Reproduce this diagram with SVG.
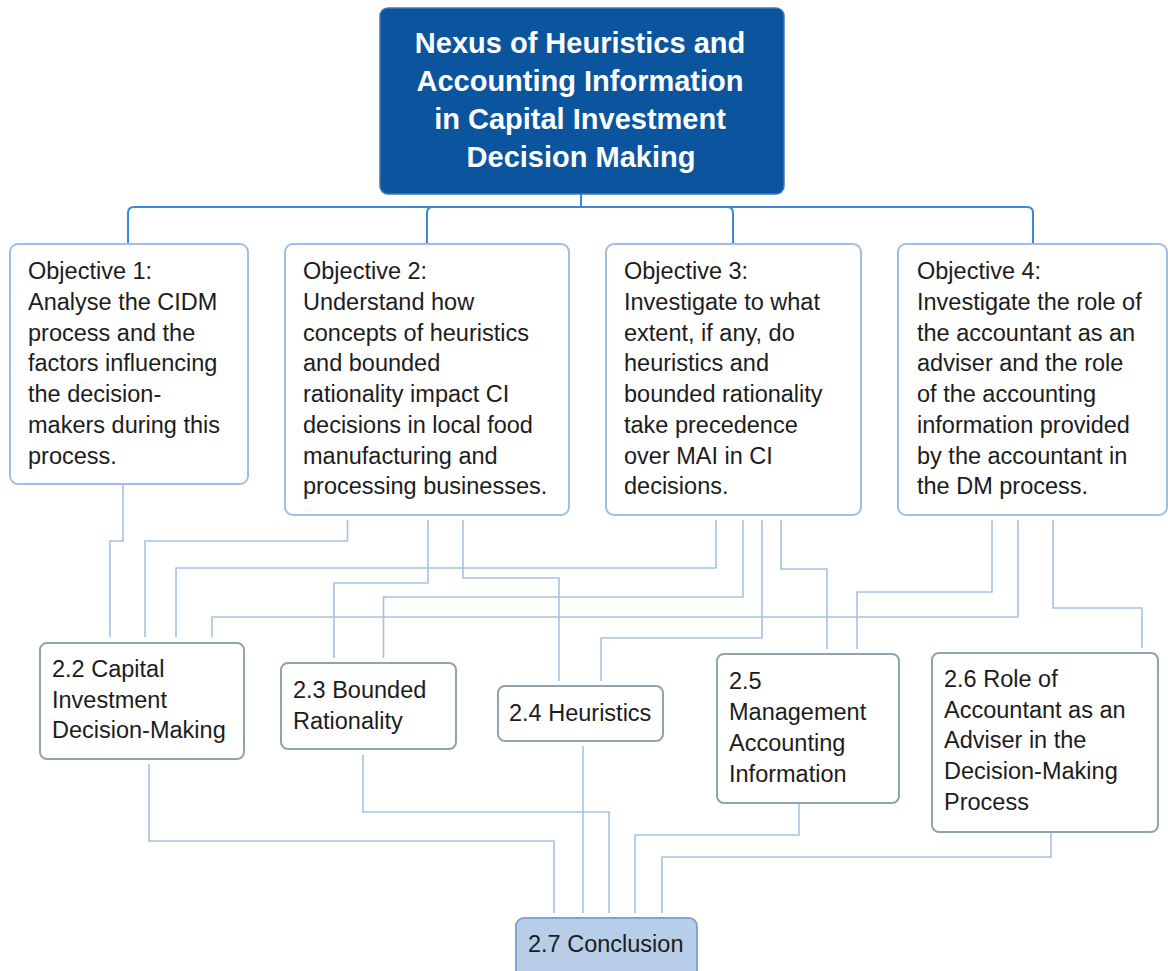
<svg xmlns="http://www.w3.org/2000/svg" width="1168" height="971" viewBox="0 0 1168 971">
  <style>
    .title { font-family: "Liberation Sans", Arial, Helvetica, sans-serif; font-size: 29px; font-weight: bold; fill: #ffffff; text-anchor: middle; }
    .txt { font-family: "Liberation Sans", Arial, Helvetica, sans-serif; font-size: 23.5px; fill: #1c1c1c; }
    .root { fill: #0b559e; stroke: #3f78b8; stroke-width: 1.5; }
    .obj { fill: #ffffff; stroke: #9ec0e6; stroke-width: 2; }
    .sec { fill: #ffffff; stroke: #8fa3b0; stroke-width: 2; }
    .concl { fill: #b8cde8; stroke: #7ea6d4; stroke-width: 2; }
    .bus { fill: none; stroke: #3d87d8; stroke-width: 2; }
    .link { fill: none; stroke: #a5c3e5; stroke-width: 1.6; }
  </style>

  <!-- connectors -->
  <g id="connectors">
    <!-- root to objectives -->
    <path class="bus" d="M581,194 V207 H134 Q128,207 128,213 V244"/>
    <path class="bus" d="M581,194 V207 H433 Q427,207 427,213 V244"/>
    <path class="bus" d="M581,194 V207 H727 Q733,207 733,213 V244"/>
    <path class="bus" d="M581,194 V207 H1027 Q1033,207 1033,213 V244"/>

    <!-- objectives to sections -->
    <path class="link" d="M123,485 V541 H110 V637"/>
    <path class="link" d="M347.5,520 V541 H145 V637"/>
    <path class="link" d="M716,520 V568 H176 V637"/>
    <path class="link" d="M1018,520 V617 H212 V637"/>
    <path class="link" d="M428,520 V583 H334 V658"/>
    <path class="link" d="M743,520 V597 H383.5 V658"/>
    <path class="link" d="M463,520 V578 H559 V681"/>
    <path class="link" d="M762,520 V638 H601 V681"/>
    <path class="link" d="M781,520 V569 H827 V649"/>
    <path class="link" d="M992,520 V592 H857 V649"/>
    <path class="link" d="M1053,520 V608 H1142 V648"/>

    <!-- sections to conclusion -->
    <path class="link" d="M149,764 V841 H554 V913"/>
    <path class="link" d="M363,755 V812 H609 V913"/>
    <path class="link" d="M583,746 V913"/>
    <path class="link" d="M799,803 V835 H635 V913"/>
    <path class="link" d="M1051,833 V857 H662 V913"/>
  </g>

  <g id="root">
    <rect class="root" x="380" y="8" width="404" height="186" rx="8"/>
    <text class="title" x="580" y="53">Nexus of Heuristics and</text>
    <text class="title" x="580" y="91">Accounting Information</text>
    <text class="title" x="580" y="129">in Capital Investment</text>
    <text class="title" x="581" y="167">Decision Making</text>
  </g>

  <g id="objective1">
    <rect class="obj" x="10" y="244" width="238" height="240" rx="8"/>
    <text class="txt" x="28" y="279">Objective 1:</text>
    <text class="txt" x="28" y="310">Analyse the CIDM</text>
    <text class="txt" x="28" y="340.5">process and the</text>
    <text class="txt" x="28" y="371">factors influencing</text>
    <text class="txt" x="28" y="402">the decision-</text>
    <text class="txt" x="28" y="433">makers during this</text>
    <text class="txt" x="28" y="463.5">process.</text>
  </g>

  <g id="objective2">
    <rect class="obj" x="285" y="244" width="284" height="271" rx="8"/>
    <text class="txt" x="303" y="279">Objective 2:</text>
    <text class="txt" x="303" y="310">Understand how</text>
    <text class="txt" x="303" y="340.5">concepts of heuristics</text>
    <text class="txt" x="303" y="371">and bounded</text>
    <text class="txt" x="303" y="402">rationality impact CI</text>
    <text class="txt" x="303" y="433">decisions in local food</text>
    <text class="txt" x="303" y="463.5">manufacturing and</text>
    <text class="txt" x="303" y="494">processing businesses.</text>
  </g>

  <g id="objective3">
    <rect class="obj" x="606" y="244" width="255" height="271" rx="8"/>
    <text class="txt" x="624" y="279">Objective 3:</text>
    <text class="txt" x="624" y="310">Investigate to what</text>
    <text class="txt" x="624" y="340.5">extent, if any, do</text>
    <text class="txt" x="624" y="371">heuristics and</text>
    <text class="txt" x="624" y="402">bounded rationality</text>
    <text class="txt" x="624" y="433">take precedence</text>
    <text class="txt" x="624" y="463.5">over MAI in CI</text>
    <text class="txt" x="624" y="494">decisions.</text>
  </g>

  <g id="objective4">
    <rect class="obj" x="898" y="244" width="269" height="271" rx="8"/>
    <text class="txt" x="917" y="279">Objective 4:</text>
    <text class="txt" x="917" y="310">Investigate the role of</text>
    <text class="txt" x="917" y="340.5">the accountant as an</text>
    <text class="txt" x="917" y="371">adviser and the role</text>
    <text class="txt" x="917" y="402">of the accounting</text>
    <text class="txt" x="917" y="433">information provided</text>
    <text class="txt" x="917" y="463.5">by the accountant in</text>
    <text class="txt" x="917" y="494">the DM process.</text>
  </g>

  <g id="section2_2">
    <rect class="sec" x="40" y="643" width="204" height="116" rx="7"/>
    <text class="txt" x="52" y="677">2.2 Capital</text>
    <text class="txt" x="52" y="708">Investment</text>
    <text class="txt" x="52" y="738">Decision-Making</text>
  </g>

  <g id="section2_3">
    <rect class="sec" x="281" y="663" width="175" height="86" rx="7"/>
    <text class="txt" x="293" y="698">2.3 Bounded</text>
    <text class="txt" x="293" y="729">Rationality</text>
  </g>

  <g id="section2_4">
    <rect class="sec" x="498" y="686" width="165" height="55" rx="7"/>
    <text class="txt" x="509" y="721">2.4 Heuristics</text>
  </g>

  <g id="section2_5">
    <rect class="sec" x="717" y="654" width="182" height="149" rx="7"/>
    <text class="txt" x="729" y="689">2.5</text>
    <text class="txt" x="729" y="720">Management</text>
    <text class="txt" x="729" y="751">Accounting</text>
    <text class="txt" x="729" y="782">Information</text>
  </g>

  <g id="section2_6">
    <rect class="sec" x="932" y="653" width="226" height="179" rx="7"/>
    <text class="txt" x="944" y="687">2.6 Role of</text>
    <text class="txt" x="944" y="718">Accountant as an</text>
    <text class="txt" x="944" y="748">Adviser in the</text>
    <text class="txt" x="944" y="779">Decision-Making</text>
    <text class="txt" x="944" y="810">Process</text>
  </g>

  <g id="conclusion">
    <rect class="concl" x="516" y="918" width="181" height="66" rx="8"/>
    <text class="txt" x="528" y="952">2.7 Conclusion</text>
  </g>
</svg>
